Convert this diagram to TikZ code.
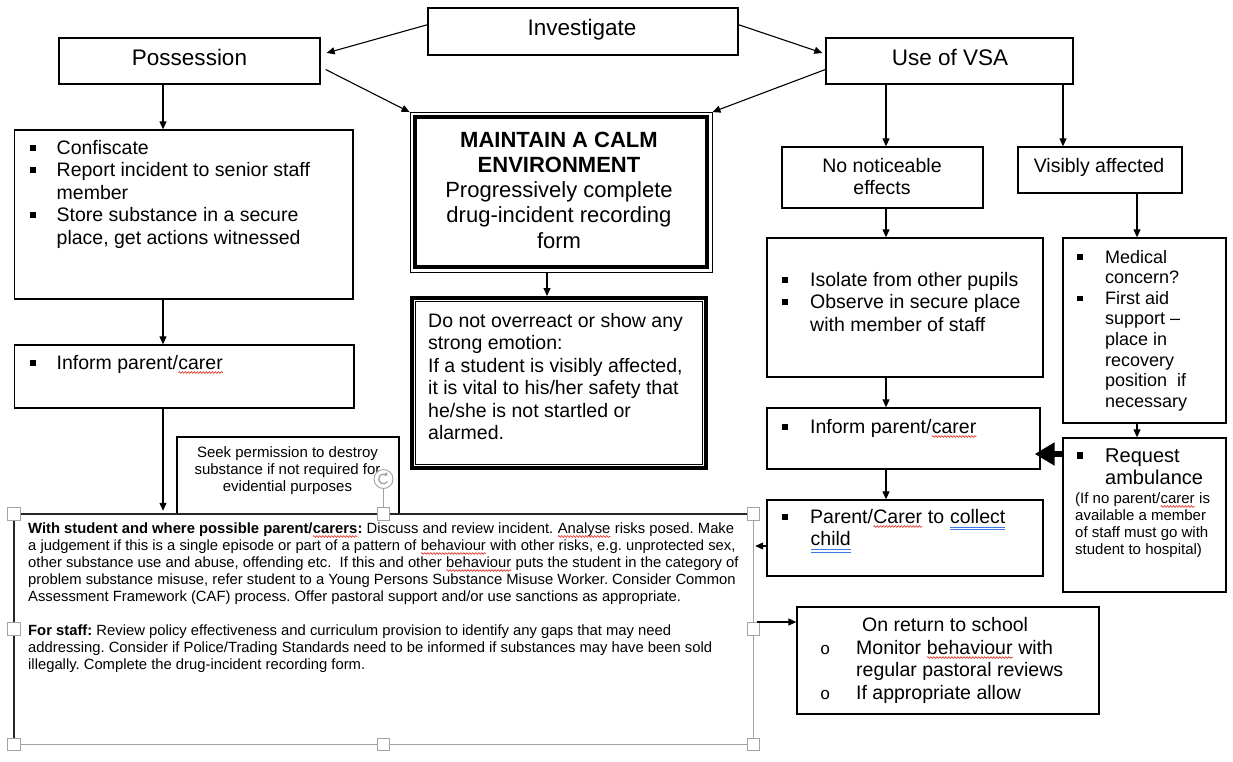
\documentclass[tikz,border=0pt]{standalone}
\usepackage{fontspec}
\setmainfont{Liberation Sans}
\newfontfamily\monofam{Liberation Mono}
\usetikzlibrary{arrows.meta,calc,fit,decorations.pathmorphing}
\frenchspacing

\definecolor{spellred}{HTML}{E0301E}
\definecolor{linkblue}{HTML}{3D7BE0}
\definecolor{selgray}{HTML}{A3A3A3}

% spell-check wave and hyperlink-style double underline
\newcommand\sq[1]{\tikz[baseline=(w.base)]{\node[inner sep=0pt, outer sep=0pt] (w) {#1};
  \draw[spellred, line width=0.6pt, decorate, decoration={snake, amplitude=0.9pt, segment length=3pt}]
    ([yshift=-3.5pt]w.base west) -- ([yshift=-3.5pt]w.base east);}}
\newcommand\bl[1]{\tikz[baseline=(w.base)]{\node[inner sep=0pt, outer sep=0pt] (w) {#1};
  \draw[linkblue, line width=1pt] ([yshift=-4pt]w.base west) -- ([yshift=-4pt]w.base east)
    ([yshift=-6.4pt]w.base west) -- ([yshift=-6.4pt]w.base east);}}

% square bullet and its column
\newcommand\sqb{\rule[0.17em]{0.31em}{0.31em}}
\newcommand\bul[1][27pt]{\makebox[#1][l]{\sqb}}
\newcommand\obul{\makebox[36pt][l]{{\monofam\fontsize{17}{17}\selectfont o}}}

% font sizes
\newcommand\fH{\fontsize{22.5}{26}\selectfont}
\newcommand\fC{\fontsize{22}{25.3}\selectfont}
\newcommand\fM{\fontsize{19.5}{22.5}\selectfont}
\newcommand\fR{\fontsize{20}{22.5}\selectfont}
\newcommand\fD{\fontsize{18}{20.6}\selectfont}
\newcommand\fS{\fontsize{14.8}{17}\selectfont}
\newcommand\fX{\fontsize{15}{17.3}\selectfont}

\tikzset{
  box/.style={draw, line width=1.3pt, inner sep=0pt},
  txt/.style={inner sep=0pt, anchor=base west},
  ctxt/.style={inner sep=0pt, anchor=base},
  arr/.style={line width=1.1pt, -{Triangle[length=8pt,width=7pt]}},
  bigarr/.style={line width=6pt, -{Triangle[length=20pt,width=22pt]}},
  handle/.style={rectangle, draw=selgray, fill=white, line width=0.8pt, minimum size=12.5pt, inner sep=0pt}
}

\begin{document}
\begin{tikzpicture}[x=1pt,y=-1pt]
\useasboundingbox (0,0) rectangle (1233,761);

% ---------- top row ----------
\node[box, fit={(428,8) (738,55)}] (inv) {};
\node[ctxt] (invt) at (582,35.5) {\fH Investigate};
\node[box, fit={(59,38) (320,84)}] (pos) {};
\node[ctxt] (post) at (189.5,65) {\fH Possession};
\node[box, fit={(826,38) (1073,84)}] (vsa) {};
\node[ctxt] (vsat) at (950,65) {\fH Use of VSA};

% ---------- centre column ----------
\node[draw, line width=0.9pt, inner sep=0pt, fit={(410,112.5) (712,272)}] (mc) {};
\draw[line width=4pt] ($(mc.north west)+(5,5)$) rectangle ($(mc.south east)+(-5,-5)$);
\node[ctxt] (mct) at (559,147) {\fC\begin{tabular}[t]{@{}c@{}}
  \textbf{MAINTAIN A CALM}\\ \textbf{ENVIRONMENT}\\ Progressively complete\\
  drug-incident recording\\ form\end{tabular}};

\node[draw, line width=4pt, inner sep=0pt, fit={(412,298) (706,468)}] (dn) {};
\draw[line width=0.9pt] ($(dn.north west)+(5.5,5.5)$) rectangle ($(dn.south east)+(-5.5,-5.5)$);
\node[txt] (dnt) at (428,327) {\fM\begin{tabular}[t]{@{}l@{}}
  Do not overreact or show any\\ strong emotion:\\ If a student is visibly affected,\\
  it is vital to his/her safety that\\ he/she is not startled or\\ alarmed.\end{tabular}};

% ---------- left column ----------
\node[box, fit={(14.5,130) (353,299)}] (conf) {};
\node[txt] (conft) at (29.5,154) {\fM\begin{tabular}[t]{@{}l@{}l@{}}
  \bul & Confiscate\\ \bul & Report incident to senior staff\\ & member\\
  \bul & Store substance in a secure\\ & place, get actions witnessed\end{tabular}};

\node[box, fit={(14.5,345) (354,408)}] (infL) {};
\node[txt] (infLt) at (29.5,369) {\fM\begin{tabular}[t]{@{}l@{}l@{}}
  \bul & Inform parent/\sq{carer}\end{tabular}};

\node[box, fit={(177,437) (399,514)}] (seek) {};
\node[ctxt] (seekt) at (287.5,457) {\fX\begin{tabular}[t]{@{}c@{}}
  Seek permission to destroy\\ substance if not required for\\ evidential purposes\end{tabular}};

% ---------- right columns ----------
\node[box, fit={(782,147) (983,208)}] (nne) {};
\node[ctxt] (nnet) at (882,172) {\fM\begin{tabular}[t]{@{}c@{}}No noticeable\\ effects\end{tabular}};
\node[box, fit={(1018,147) (1182,193)}] (vis) {};
\node[ctxt] (vist) at (1099,172) {\fM Visibly affected};

\node[box, fit={(767,238) (1043,377)}] (iso) {};
\node[txt] (isot) at (782,286) {\fM\begin{tabular}[t]{@{}l@{}l@{}}
  \bul[28pt] & Isolate from other pupils\\ \bul[28pt] & Observe in secure place\\
  & with member of staff\end{tabular}};

\node[box, fit={(1063,238) (1226,423)}] (med) {};
\node[txt] (medt) at (1077,263) {\fD\begin{tabular}[t]{@{}l@{}l@{}}
  \bul[28pt] & Medical\\ & concern?\\ \bul[28pt] & First aid\\ & support --\\
  & place in\\ & recovery\\ & position~ if\\ & necessary\end{tabular}};

\node[box, fit={(767,408) (1040,469)}] (infR) {};
\node[txt] (infRt) at (782,433) {\fM\begin{tabular}[t]{@{}l@{}l@{}}
  \bul[28pt] & Inform parent/\sq{carer}\end{tabular}};

\node[box, fit={(1063,438) (1226,592)}] (req) {};
\node[txt] (reqt) at (1077,462) {\fR\begin{tabular}[t]{@{}l@{}l@{}}
  \bul[28pt] & Request\\ & ambulance\end{tabular}};
\node[txt] (reqn) at (1075,503) {\fX\begin{tabular}[t]{@{}l@{}}
  (If no parent/\sq{carer} is\\ available a member\\ of staff must go with\\
  student to hospital)\end{tabular}};

\node[box, fit={(767,500) (1043,576)}] (par) {};
\node[txt] (part) at (782,523) {\fM\begin{tabular}[t]{@{}l@{}l@{}}
  \bul[28pt] & Parent/\sq{Carer} to \bl{collect\ }\\ & \bl{child}\end{tabular}};

\node[box, fit={(797,607) (1099,714)}] (ret) {};
\node[txt] (rett) at (862,631) {\fM On return to school};
\node[txt] (retl) at (820,654) {\fM\begin{tabular}[t]{@{}l@{}l@{}}
  \obul & Monitor \sq{behaviour} with\\ & regular pastoral reviews\\
  \obul & If appropriate allow\end{tabular}};

% ---------- bottom text frame ----------
\node[inner sep=0pt, fit={(14,514) (753,744)}] (big) {};
\draw[selgray, line width=1pt] (big.north east) -- (big.south east) -- (big.south west);
\draw[black!85, line width=2.2pt] (big.south west) -- (big.north west) -- (big.north east);
\node[txt] (bigt) at (28,533) {\fS\begin{tabular}[t]{@{}l@{}}
  \textbf{With student and where possible parent/\sq{carers}:} Discuss and review incident. \sq{Analyse} risks posed. Make\\
  a judgement if this is a single episode or part of a pattern of \sq{behaviour} with other risks, e.g. unprotected sex,\\
  other substance use and abuse, offending etc.\ \ If this and other \sq{behaviour} puts the student in the category of\\
  problem substance misuse, refer student to a Young Persons Substance Misuse Worker. Consider Common\\
  Assessment Framework (CAF) process. Offer pastoral support and/or use sanctions as appropriate.\\
  \\
  \textbf{For staff:} Review policy effectiveness and curriculum provision to identify any gaps that may need\\
  addressing. Consider if Police/Trading Standards need to be informed if substances may have been sold\\
  illegally. Complete the drug-incident recording form.\end{tabular}};

% selection handles
\node[handle] (h1) at (big.north west) {};
\node[handle] (h2) at (big.north) {};
\node[handle] (h3) at (big.north east) {};
\node[handle] (h4) at (big.west) {};
\node[handle] (h5) at (big.east) {};
\node[handle] (h6) at (big.south west) {};
\node[handle] (h7) at (big.south) {};
\node[handle] (h8) at (big.south east) {};
\node[circle, draw=selgray, fill=white, line width=0.9pt, minimum size=19pt, inner sep=0pt] (rot) at (383.5,479) {};
\draw[selgray, line width=1pt] (rot.south) -- (h2.north);
\draw[selgray, line width=1.3pt, -{Triangle[length=3pt,width=4.5pt]}]
  ($(rot.center)+(35:4.8)$) arc[start angle=35, end angle=320, radius=4.8];

% ---------- connectors ----------
\coordinate (lt) at (163,0);
\coordinate (mt) at (547,0);
\coordinate (nt) at (886,0);
\coordinate (vt) at (1063,0);
\coordinate (mdt) at (1137,0);
\coordinate (ry) at (0,454);
\coordinate (py) at (0,546);
\coordinate (qy) at (0,622);

\draw[arr] ($(inv.north west)!0.36!(inv.south west)$) -- ($(pos.north east)!0.33!(pos.south east)+(6,0)$);
\draw[arr] ($(inv.north east)!0.36!(inv.south east)$) -- ($(vsa.north west)!0.33!(vsa.south west)+(-3,0)$);
\draw[arr] ($(pos.north east)!0.68!(pos.south east)+(5,0)$) -- (mc.north west);
\draw[arr] ($(vsa.north west)!0.68!(vsa.south west)$) -- (mc.north east);

\draw[arr] (lt |- pos.south) -- (lt |- conf.north);
\draw[arr] (lt |- conf.south) -- (lt |- infL.north);
\draw[arr, shorten >=3pt] (lt |- infL.south) -- (lt |- big.north);
\draw[arr] (mt |- mc.south) -- (mt |- dn.north);

\draw[arr] (nt |- vsa.south) -- (nt |- nne.north);
\draw[arr] (vt |- vsa.south) -- (vt |- vis.north);
\draw[arr] (nt |- nne.south) -- (nt |- iso.north);
\draw[arr] (mdt |- vis.south) -- (mdt |- med.north);
\draw[arr] (nt |- iso.south) -- (nt |- infR.north);
\draw[arr] (mdt |- med.south) -- (mdt |- req.north);
\draw[arr] (nt |- infR.south) -- (nt |- par.north);
\draw[bigarr, shorten >=-6pt] (req.west |- ry) -- (infR.east |- ry);
\draw[arr, shorten >=2pt] (par.west |- py) -- (big.east |- py);
\draw[arr, shorten <=4pt] (big.east |- qy) -- (ret.west |- qy);
\end{tikzpicture}
\end{document}
